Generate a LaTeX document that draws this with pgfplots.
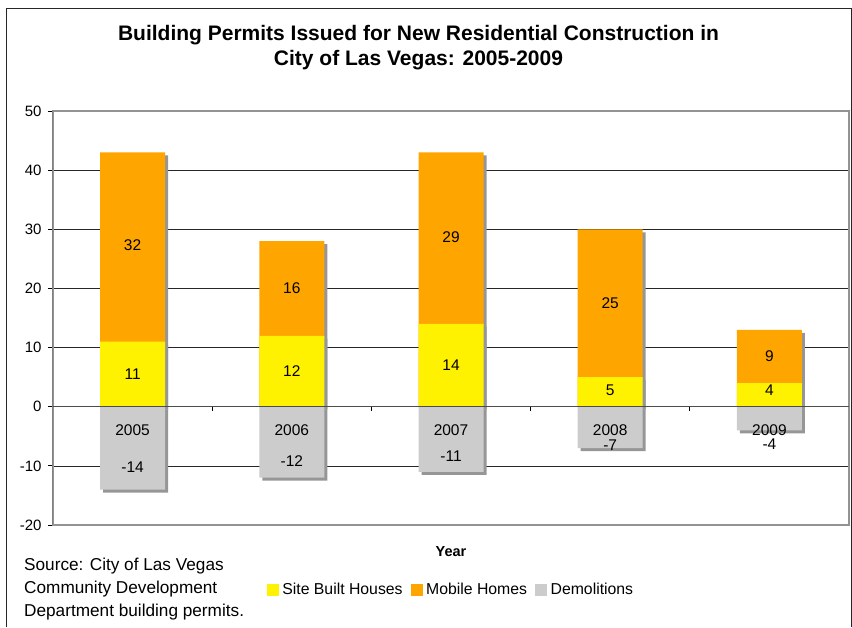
\documentclass[border=0pt]{standalone}
\usepackage{fontspec}
\setmainfont{Liberation Sans}
\usepackage{pgfplots}
\usepackage{pgfplotstable}
\pgfplotsset{compat=1.18}
\definecolor{siteY}{HTML}{FFF200}
\definecolor{mobO}{HTML}{FFA500}
\definecolor{demG}{HTML}{CCCCCC}
\definecolor{shad}{HTML}{969696}

% x  year  site mobile demol  label positions
\pgfplotstableread{
x year site mobile demol siteLab mobLab demLab yearLab
0 2005 11 32 -14 5.5 27.3 -10.2 -3.9
1 2006 12 16 -12 6.0 20.1 -9.2 -3.9
2 2007 14 29 -11 7.0 28.6 -8.3 -3.9
3 2008 5 25 -7 2.8 17.55 -6.5 -3.9
4 2009 4 9 -4 2.8 8.6 -6.3 -3.9
}\data

\begin{document}
\begin{tikzpicture}
\useasboundingbox (0,0) rectangle (852pt,-627pt);
\draw[line width=0.9pt, black!85] (6pt,-627pt) -- (6pt,-8pt) -- (851.5pt,-8pt) -- (851.5pt,-627pt);

\node[anchor=base, inner sep=0pt, font=\bfseries\fontsize{21}{25}\selectfont] at (418.5pt,-40.5pt) {Building Permits Issued for New Residential Construction in};
\node[anchor=base, inner sep=0pt, font=\bfseries\fontsize{21}{25}\selectfont] at (418.5pt,-65.5pt) {City of Las Vegas: 2005-2009};

\begin{axis}[
  at={(53pt,-525pt)}, anchor=south west,
  scale only axis, width=796pt, height=414pt,
  xmin=-0.5, xmax=4.5, ymin=-20, ymax=50,
  ytick={-20,-10,...,50},
  xtick=\empty,
  ytick pos=left, tick align=outside,
  major tick length=5pt,
  tick style={black, line width=0.8pt},
  ymajorgrids,
  grid style={black!85, line width=0.7pt},
  axis line style={gray!85, line width=1.1pt},
  yticklabel style={font=\fontsize{15}{17}\selectfont, xshift=-3pt},
  /pgf/number format/assume math mode=true,
  ybar, bar width=65pt, bar shift=0pt,
  legend style={at={(0.5,-0.157)}, anchor=center, legend columns=-1, draw=none,
    font=\fontsize{15.8}{18}\selectfont, inner sep=0pt,
    /tikz/every even column/.append style={column sep=6pt}},
  legend image code/.code={\fill[#1] (0pt,-6pt) rectangle (12pt,6pt); \path (13.5pt,0pt);},
  every node near coord/.append style={anchor=center, font=\fontsize{15.5}{18}\selectfont, text=black},
  shadowbar/.style={draw=none, fill=#1, preaction={fill=shad, transform canvas={xshift=3pt,yshift=-3pt}}},
]
\addlegendimage{fill=siteY, draw=none}\addlegendentry{Site Built Houses}
\addlegendimage{fill=mobO, draw=none}\addlegendentry{Mobile Homes}
\addlegendimage{fill=demG, draw=none}\addlegendentry{Demolitions}

% Mobile homes stacked on site-built houses (total height)
\addplot[shadowbar=mobO, forget plot] table[x=x, y expr=\thisrow{site}+\thisrow{mobile}] {\data};
\addplot[shadowbar=siteY, forget plot] table[x=x, y=site] {\data};
\addplot[shadowbar=demG, forget plot] table[x=x, y=demol] {\data};

\draw[gray!60!black, line width=1.1pt] (axis cs:-0.5,0) -- (axis cs:4.5,0);
\pgfplotsinvokeforeach{0.5,1.5,2.5,3.5}{\draw[black, line width=0.8pt] (axis cs:#1,0) -- ++(0pt,-4pt);}
\draw[black, line width=1pt] (rel axis cs:0,0) -- (rel axis cs:0,1);

% value labels
\addplot[only marks, mark=none, forget plot, nodes near coords, point meta=explicit symbolic] table[x=x, y=siteLab, meta=site] {\data};
\addplot[only marks, mark=none, forget plot, nodes near coords, point meta=explicit symbolic] table[x=x, y=mobLab, meta=mobile] {\data};
\addplot[only marks, mark=none, forget plot, nodes near coords, point meta=explicit symbolic] table[x=x, y=demLab, meta=demol] {\data};
\addplot[only marks, mark=none, forget plot, nodes near coords, point meta=explicit symbolic] table[x=x, y=yearLab, meta=year] {\data};
\end{axis}

\node[font=\bfseries\fontsize{14.5}{17}\selectfont] at (451pt,-551.5pt) {Year};

\node[anchor=base west, inner sep=0pt, font=\fontsize{17.2}{20}\selectfont] at (24pt,-570.5pt) {Source: City of Las Vegas};
\node[anchor=base west, inner sep=0pt, font=\fontsize{17.2}{20}\selectfont] at (24pt,-593.5pt) {Community Development};
\node[anchor=base west, inner sep=0pt, font=\fontsize{17.2}{20}\selectfont] at (24pt,-616.5pt) {Department building permits.};
\end{tikzpicture}
\end{document}
